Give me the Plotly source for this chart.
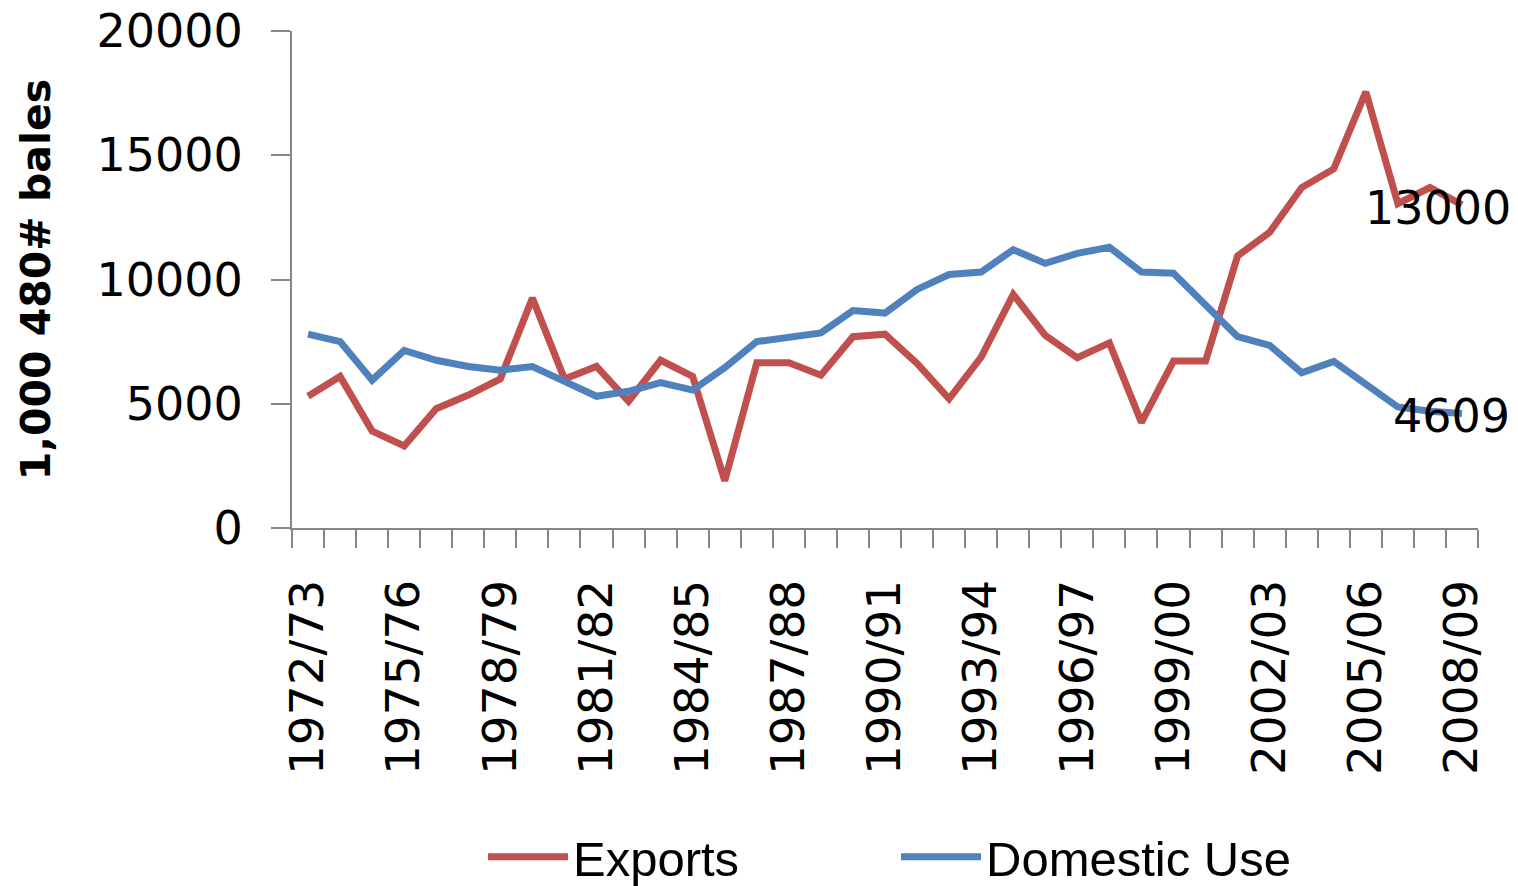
import plotly.graph_objects as go

seasons = ["1972/73", "1973/74", "1974/75", "1975/76", "1976/77", "1977/78", "1978/79",
           "1979/80", "1980/81", "1981/82", "1982/83", "1983/84", "1984/85", "1985/86",
           "1986/87", "1987/88", "1988/89", "1989/90", "1990/91", "1991/92", "1992/93",
           "1993/94", "1994/95", "1995/96", "1996/97", "1997/98", "1998/99", "1999/00",
           "2000/01", "2001/02", "2002/03", "2003/04", "2004/05", "2005/06", "2006/07",
           "2007/08", "2008/09"]

exports = [5300, 6100, 3900, 3300, 4800, 5350, 6000, 9250, 6000, 6500, 5100, 6750, 6100,
           1900, 6650, 6650, 6150, 7700, 7800, 6620, 5200, 6880, 9400, 7750, 6850, 7450,
           4250, 6720, 6720, 10950, 11900, 13700, 14450, 17550, 13050, 13700, 13000]

domestic = [7800, 7500, 5950, 7150, 6750, 6500, 6350, 6500, 5900, 5300, 5500, 5850, 5550,
            6450, 7500, 7650, 7850, 8750, 8650, 9600, 10200, 10300, 11200, 10650, 11050, 11300,
            10300, 10250, 9000, 7700, 7350, 6250, 6700, 5800, 4870, 4700, 4609]

tick_labels = [s if i % 3 == 0 else "" for i, s in enumerate(seasons)]

RED = "#C0504D"
BLUE = "#4F81BD"
AXIS = "#868686"

FIG_W, FIG_H = 1518, 886

fig = go.Figure()
fig.add_trace(go.Scatter(x=seasons, y=exports, mode="lines", name="Exports",
                         line=dict(color=RED, width=7)))
fig.add_trace(go.Scatter(x=seasons, y=domestic, mode="lines", name="Domestic Use",
                         line=dict(color=BLUE, width=7)))

fig.add_annotation(x=seasons[-1], y=exports[-1], text=f"{exports[-1]}", showarrow=False,
                   xanchor="center", yanchor="middle", xshift=-24, yshift=-3,
                   font=dict(family="DejaVu Sans", size=46, color="#000000"))
fig.add_annotation(x=seasons[-1], y=domestic[-1], text=f"{domestic[-1]}", showarrow=False,
                   xanchor="center", yanchor="middle", xshift=-10, yshift=-3,
                   font=dict(family="DejaVu Sans", size=46, color="#000000"))

fig.update_layout(
    width=FIG_W, height=FIG_H,
    margin=dict(l=292, r=40, t=31, b=358),
    paper_bgcolor="white", plot_bgcolor="white",
    showlegend=True,
    legend=dict(orientation="h", xref="container", yref="container",
                x=483 / FIG_W, y=1 - 857 / FIG_H,
                xanchor="left", yanchor="middle",
                font=dict(family="Liberation Sans", size=49, color="#000000"),
                itemwidth=80, entrywidth=318, entrywidthmode="pixels",
                bgcolor="rgba(0,0,0,0)"),
    font=dict(family="DejaVu Sans", color="#000000"),
)

fig.update_xaxes(
    type="category", range=[-0.5, len(seasons) - 0.5],
    tickmode="array", tickvals=seasons, ticktext=tick_labels,
    tickson="boundaries", ticks="outside", ticklen=18, tickwidth=2, tickcolor=AXIS,
    showline=True, linecolor=AXIS, linewidth=2, showgrid=False, zeroline=False,
    tickangle=-90, tickfont=dict(family="DejaVu Sans", size=47, color="#000000"),
    ticklabelstandoff=31, automargin=False, ticklabeloverflow="allow",
)

fig.update_yaxes(
    range=[0, 20000], tickmode="array", tickvals=[0, 5000, 10000, 15000, 20000],
    ticktext=["0", "5000", "10000", "15000", "20000"],
    ticks="outside", ticklen=19, tickwidth=2, tickcolor=AXIS,
    showline=True, linecolor=AXIS, linewidth=2, showgrid=False, zeroline=False,
    tickfont=dict(family="DejaVu Sans", size=46, color="#000000"),
    ticklabelstandoff=19, automargin=False, ticklabeloverflow="allow",
    title=dict(text="1,000 480# bales", standoff=33,
               font=dict(family="DejaVu Sans", size=41, color="#000000", weight="bold")),
)

fig.write_html("out.html", config={"displayModeBar": False},
               post_script="document.body.style.margin='0';")
